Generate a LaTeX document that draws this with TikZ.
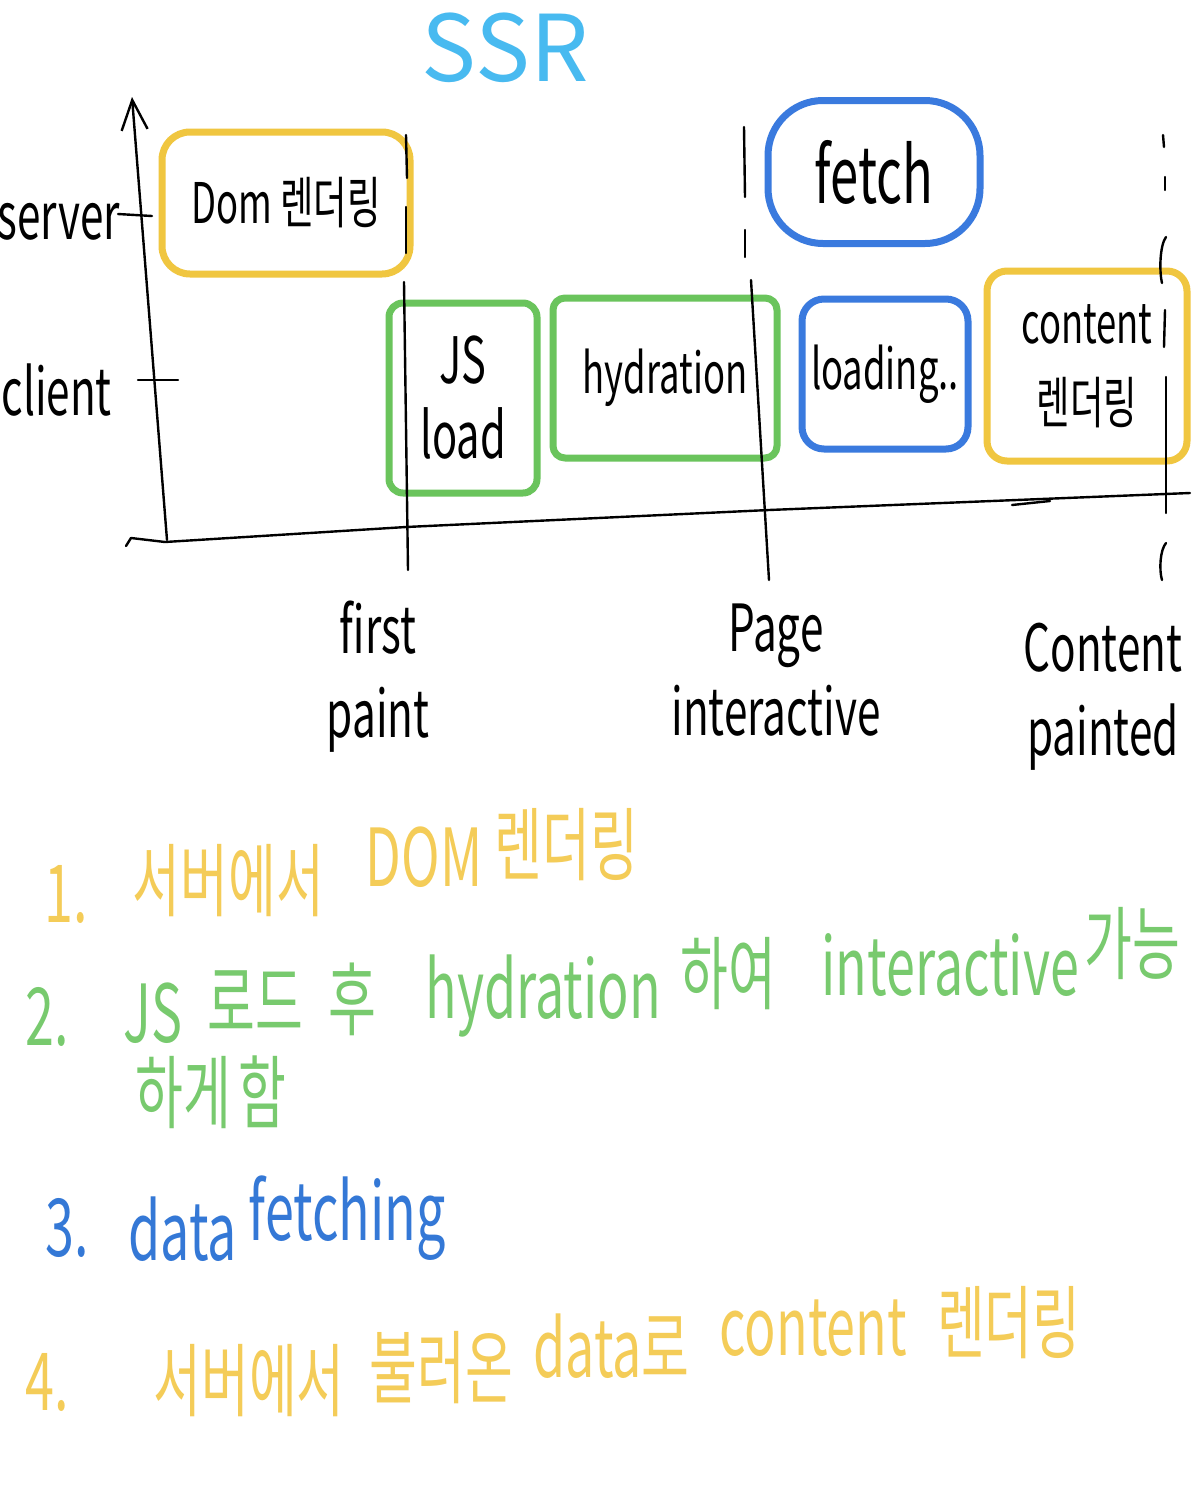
\documentclass[tikz,border=0pt]{standalone}
\usepackage{fontspec}
\setmainfont{Noto Sans CJK KR}
\newfontfamily\hand{Noto Sans CJK KR}[FakeStretch=0.65]
\usetikzlibrary{arrows.meta}
\definecolor{cyel}{RGB}{240,198,64}
\definecolor{cgreen}{RGB}{106,196,92}
\definecolor{cblue}{RGB}{58,122,222}
\definecolor{ctitle}{RGB}{72,186,240}
\definecolor{nyel}{RGB}{244,204,88}
\definecolor{ngreen}{RGB}{120,202,110}
\definecolor{nblue}{RGB}{52,120,214}
\newcommand{\wgap}[1]{\hspace{#1pt}}
\newcommand{\up}[2]{\raisebox{#1pt}{#2}}
\begin{document}
\begin{tikzpicture}[x=1pt,y=-1pt,
  crayon/.style={draw, line width=7pt, rounded corners=28pt, inner sep=0pt, line join=round,
    text=black, align=center, font=\hand\fontsize{56}{76}\selectfont},
  note/.style={anchor=base west, inner sep=0pt, font=\hand\fontsize{80}{90}\selectfont},
  lbl/.style={align=center, inner sep=0pt, font=\hand\fontsize{65}{84}\selectfont},
  axisline/.style={line width=2.4pt, black, line cap=round, line join=round}]
\useasboundingbox[fill=white] (0,0) rectangle (1198,1500);

% title
\node[text=ctitle, font=\fontsize{92}{100}\selectfont] (ttl) at (505,48) {SSR};

% boxes
\node[crayon, draw=cyel, minimum width=248pt, minimum height=142pt] (dom) at (286,203) {Dom 렌더링};
\node[crayon, draw=cblue, minimum width=212pt, minimum height=143pt, rounded corners=55pt,
  font=\hand\fontsize{78}{80}\selectfont] (fetch) at (874,172) {fetch};
\node[crayon, draw=cgreen, minimum width=148pt, minimum height=190pt, rounded corners=14pt,
  font=\hand\fontsize{64}{75}\selectfont] (js) at (463,398) {JS\\load};
\node[crayon, draw=cgreen, minimum width=224pt, minimum height=160pt, rounded corners=12pt] (hyd) at (665,378) {hydration};
\node[crayon, draw=cblue, minimum width=166pt, minimum height=150pt, rounded corners=22pt] (ld) at (885,374) {loading..};
\node[crayon, draw=cyel, minimum width=200pt, minimum height=190pt, rounded corners=20pt,
  font=\hand\fontsize{56}{80}\selectfont] (cont) at (1087,366) {content\\렌더링};

% axes
\coordinate (ybot) at (167,540);
\coordinate (ytop) at (132,97);
\draw[axisline, -{Straight Barb[length=30pt,width=26pt]}] (ybot) -- (ytop);
\draw[axisline] (126,546) -- (131,538) -- (165,542) -- (406,527) -- (769,510) -- (1190,493);
\draw[axisline] (1012,505) -- (1050,501);
\draw[axisline] (118,214) -- (152,216);
\draw[axisline] (138,380) -- (178,380);

\node[lbl, anchor=east] (srv) at (120,222) {server};
\node[lbl, anchor=east] (cli) at (112,390) {client};

% milestone lines
\draw[axisline] (406,135) -- (407,178);
\draw[axisline] (406,207) -- (406,253);
\draw[axisline] (404,282) -- (408,570);
\draw[axisline] (744,127) -- (745,197);
\draw[axisline] (745,230) -- (745,257);
\draw[axisline] (751,280) -- (769,580);
\draw[axisline] (1163,135) -- (1164,147);
\draw[axisline] (1165,177) -- (1165,190);
\draw[axisline] (1166,237) .. controls (1160,245) and (1159,270) .. (1162,283);
\draw[axisline] (1165,310) -- (1164,347);
\draw[axisline] (1166,377) -- (1166,513);
\draw[axisline] (1166,543) .. controls (1160,550) and (1159,570) .. (1162,580);

% milestone labels
\node[lbl] (fp) at (378,677) {first\\paint};
\node[lbl] (pi) at (776,670) {Page\\interactive};
\node[lbl] (cp) at (1103,697) {Content\\painted};

% notes
\node[note, text=nyel] (n1) at (44,922)
  {1.\wgap{45}\up{12}{서버에서}\wgap{42}\up{36}{DOM}\wgap{12}\up{48}{렌더링}};
\node[note, text=ngreen] (n2) at (25,1045)
  {2.\wgap{55}\up{3}{JS}\wgap{25}\up{14}{로드}\wgap{25}\up{16}{후}\wgap{50}\up{27}{hydration}\wgap{20}\up{42}{하여}\wgap{45}\up{50}{interactive}\wgap{6}\up{72}{가능}};
\node[note, text=ngreen] (n2b) at (135,1122) {하게\wgap{8}함};
\node[note, text=nblue] (n3) at (45,1256) {3.\wgap{40}\up{-4}{data}\wgap{12}\up{16}{fetching}};
\node[note, text=nyel] (n4) at (25,1410)
  {4.\wgap{85}서버에서\wgap{25}\up{13}{불러온}\wgap{20}\up{33}{data로}\wgap{30}\up{55}{content}\wgap{30}\up{58}{렌더링}};
\end{tikzpicture}
\end{document}
